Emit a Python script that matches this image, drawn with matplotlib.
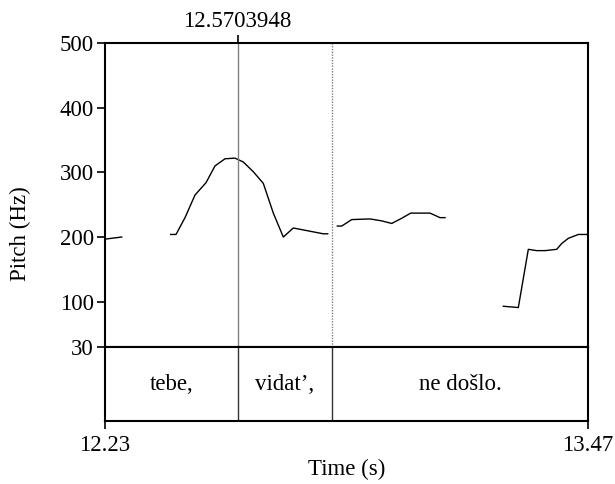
import matplotlib
matplotlib.use("Agg")
import matplotlib.pyplot as plt

plt.rcParams['font.family'] = ['Liberation Serif', 'DejaVu Serif']

# Pitch contour segments (time s, pitch Hz)
seg1_t = [12.2326, 12.2729]
seg1_f = [197, 200]
seg2_t = [12.3987, 12.4123, 12.4354, 12.4611, 12.4893, 12.5124, 12.5381, 12.5638,
          12.5851, 12.6107, 12.6364, 12.6621, 12.6878, 12.7134, 12.7391, 12.7905, 12.8018]
seg2_f = [204, 204, 230, 265, 284, 310, 321, 322, 316, 301, 283, 237, 200, 214, 211, 205, 205]
seg3_t = [12.8264, 12.8377, 12.8634, 12.9104, 12.9404, 12.9661, 12.9917, 13.0148,
          13.0387, 13.0644, 13.0901, 13.1029]
seg3_f = [217, 217, 227, 228, 225, 221, 229, 237, 237, 237, 230, 230]
seg4_t = [13.2526, 13.2911, 13.3168, 13.3383, 13.3597, 13.3897, 13.4025, 13.4195, 13.4452, 13.4693]
seg4_f = [93, 91, 181, 179, 179, 181, 190, 198, 204, 204]
segments = [(seg1_t, seg1_f), (seg2_t, seg2_f), (seg3_t, seg3_f), (seg4_t, seg4_f)]

t_start, t_end = 12.23, 13.47
cursor = 12.5703948
boundaries = [12.5703948, 12.813]
words = ["tebe,", "vidat\u2019,", "ne do\u0161lo."]
y_ticks = [30, 100, 200, 300, 400, 500]

FS = 16.5
W, H = 615, 484
fig = plt.figure(figsize=(W / 100, H / 100), dpi=100)
left, right = 105 / W, 588 / W
top_p, bot_p = 1 - 43 / H, 1 - 347 / H
bot_t = 1 - 421 / H

ax = fig.add_axes([left, bot_p, right - left, top_p - bot_p])
axt = fig.add_axes([left, bot_t, right - left, bot_p - bot_t])

for t, f in segments:
    ax.plot(t, f, color='black', lw=1.0)

ax.set_xlim(t_start, t_end)
ax.set_ylim(30, 500)
ax.set_yticks(y_ticks)
ax.set_yticklabels([str(v) for v in y_ticks], fontsize=FS)
ax.tick_params(axis='y', direction='out', length=6, width=1.2, pad=2)
ax.axvline(cursor, color='#808080', lw=1.0)
ax.axvline(boundaries[1], color='#808080', lw=1.0, ls=(0, (1, 1)))
ax.xaxis.tick_top()
ax.set_xticks([cursor])
ax.set_xticklabels(['12.5703948'], fontsize=FS)
ax.tick_params(axis='x', direction='out', length=6, width=1.2, pad=2, top=True, bottom=False)
for s in ax.spines.values():
    s.set_linewidth(1.5)

# text grid
axt.set_xlim(t_start, t_end)
axt.set_ylim(0, 1)
axt.set_yticks([])
edges = [t_start] + boundaries + [t_end]
for b in boundaries:
    axt.axvline(b, color='#333333', lw=1.0)
for i, w in enumerate(words):
    axt.text((edges[i] + edges[i + 1]) / 2, 0.5, w, ha='center', va='center', fontsize=FS)
axt.set_xticks([t_start, t_end])
axt.set_xticklabels(['12.23', '13.47'], fontsize=FS)
axt.tick_params(axis='x', direction='out', length=6, width=1.2, pad=4)
axt.set_xlabel('Time (s)', fontsize=FS, labelpad=2)
for s in axt.spines.values():
    s.set_linewidth(1.5)

fig.text(20 / W, 1 - 234 / H, 'Pitch (Hz)', rotation=90, ha='center', va='center', fontsize=FS)

fig.savefig('out.png', dpi=100)
